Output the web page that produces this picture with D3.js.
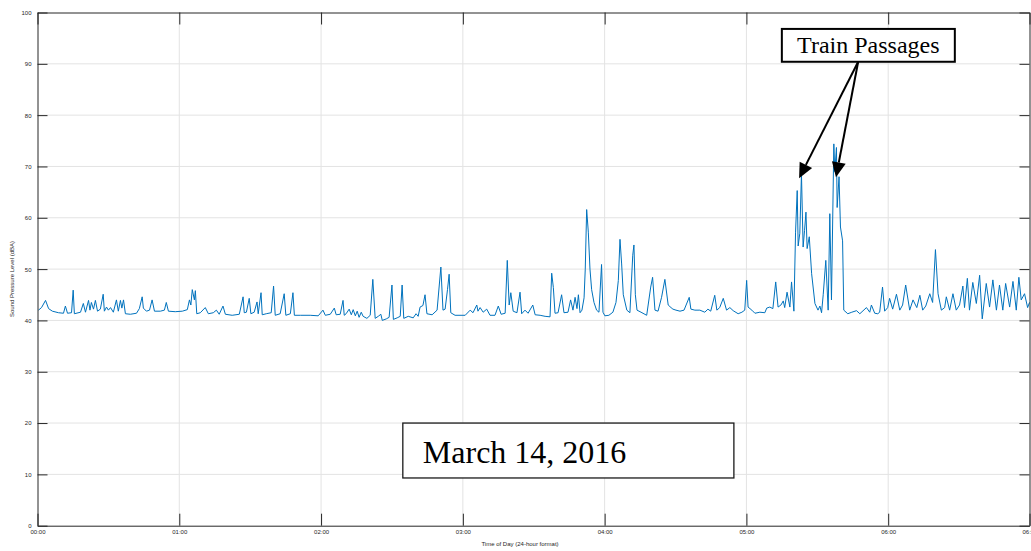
<!DOCTYPE html>
<html>
<head>
<meta charset="utf-8">
<script src="https://cdn.jsdelivr.net/npm/d3@7"></script>
<style>
  body { margin: 0; background: #fff; }
  svg { display: block; }
  .axis path, .axis line { stroke: #262626; }
  .axis text { fill: #262626; font-family: "Liberation Sans", Arial, sans-serif; font-size: 6px; }
  .grid line { stroke: #e3e3e3; stroke-width: 1; }
  .label { fill: #262626; font-family: "Liberation Sans", Arial, sans-serif; font-size: 6px; }
  .note { font-family: "Liberation Serif", "Times New Roman", serif; fill: #000; }
</style>
</head>
<body>
<div id="chart"></div>
<script>
// time of day in minutes after midnight
const minutes = [
  0.4, 1.7, 3.4, 4.7, 6.3, 8.9, 11.0, 11.8, 12.7, 14.4,
  15.1, 15.6, 18.2, 19.4, 20.3, 21.6, 22.2, 22.8, 23.7, 24.5,
  25.4, 26.6, 27.8, 28.3, 29.2, 30.0, 30.9, 32.1, 33.4, 34.2,
  35.1, 35.7, 36.4, 37.2, 39.3, 41.9, 43.1, 44.3, 44.8, 46.1,
  47.4, 48.5, 49.5, 52.0, 53.7, 54.5, 55.4, 58.3, 61.3, 63.4,
  64.3, 64.9, 65.5, 66.4, 66.8, 67.4, 68.9, 71.0, 72.3, 74.4,
  75.7, 76.9, 78.5, 79.5, 82.4, 85.4, 87.0, 87.5, 88.4, 89.6,
  90.3, 91.7, 92.9, 93.4, 94.6, 95.1, 96.8, 98.9, 99.9, 100.6,
  102.7, 104.4, 105.1, 107.0, 108.1, 108.7, 111.2, 115.4, 118.8, 120.8,
  121.8, 123.9, 125.6, 126.4, 128.1, 129.3, 129.8, 130.6, 131.9, 132.8,
  133.6, 134.5, 135.3, 136.1, 137.0, 137.8, 139.4, 140.8, 141.9, 142.9,
  144.2, 145.3, 145.9, 147.6, 148.8, 150.0, 150.6, 152.2, 153.5, 154.3,
  155.0, 156.9, 159.0, 160.2, 161.1, 161.9, 163.1, 164.0, 164.8, 167.0,
  169.1, 170.7, 171.6, 172.5, 173.5, 174.2, 174.9, 176.7, 178.8, 181.0,
  183.1, 184.3, 185.9, 186.4, 187.3, 188.6, 190.1, 191.5, 193.6, 195.0,
  196.2, 197.9, 198.8, 199.6, 200.3, 201.3, 202.9, 204.2, 204.9, 206.3,
  207.6, 209.6, 210.6, 212.7, 214.8, 216.9, 217.6, 218.3, 219.0, 220.3,
  221.8, 222.8, 224.5, 225.6, 226.6, 227.5, 228.3, 228.9, 229.6, 230.4,
  231.3, 231.8, 232.4, 233.1, 233.8, 234.5, 235.5, 236.6, 237.6, 238.7,
  239.3, 240.1, 241.8, 243.5, 244.8, 245.8, 246.5, 247.2, 247.9, 249.4,
  250.7, 251.9, 252.4, 253.0, 253.7, 255.4, 257.8, 259.5, 260.3, 261.3,
  262.6, 264.1, 265.5, 266.9, 268.1, 268.9, 270.2, 271.9, 273.6, 275.8,
  276.5, 278.2, 280.3, 282.4, 283.7, 284.9, 286.6, 287.5, 288.7, 290.2,
  291.6, 293.0, 294.4, 296.5, 298.1, 299.3, 300.1, 300.7, 302.3, 303.6,
  305.7, 307.8, 308.6, 309.9, 311.2, 312.4, 313.4, 314.6, 315.6, 316.2,
  317.2, 318.4, 319.1, 320.1, 320.8, 321.5, 321.9, 322.6, 323.3, 324.0,
  324.6, 325.2, 325.7, 326.6, 327.6, 329.0, 330.3, 331.1, 331.8, 332.5,
  333.6, 334.6, 335.3, 336.0, 337.0, 337.4, 338.1, 338.4, 339.2, 339.8,
  340.7, 341.2, 342.9, 344.6, 346.6, 348.0, 350.8, 352.2, 352.9, 354.3,
  355.6, 356.4, 357.6, 358.5, 359.8, 360.6, 361.9, 363.5, 364.9, 366.1,
  367.4, 369.1, 370.5, 372.1, 373.4, 374.6, 375.9, 377.6, 378.8, 380.0,
  381.1, 382.5, 383.9, 384.6, 386.0, 387.4, 388.8, 390.2, 391.6, 392.3,
  393.5, 394.4, 395.8, 397.3, 398.7, 399.8, 401.5, 402.9, 404.3, 405.8,
  407.1, 408.5, 409.7, 411.4, 412.8, 414.2, 415.3, 416.3, 417.7, 419.0,
  419.8
];

// sound pressure level (dBA), same order as minutes
const dBA = [
  42.0, 42.5, 43.9, 42.3, 41.8, 41.5, 41.4, 42.8, 41.4, 41.5,
  45.9, 41.3, 41.6, 43.3, 41.6, 43.9, 42.0, 43.5, 42.2, 43.9,
  41.8, 42.2, 45.1, 41.8, 42.6, 42.0, 42.5, 41.6, 44.0, 41.8,
  43.9, 42.4, 44.0, 41.3, 41.2, 41.4, 42.3, 44.6, 42.4, 41.8,
  42.0, 44.0, 41.8, 41.8, 42.0, 43.5, 41.8, 41.7, 41.8, 42.1,
  44.0, 43.0, 46.0, 44.0, 45.8, 41.3, 41.5, 42.5, 41.3, 41.5,
  42.0, 41.2, 42.8, 41.2, 41.0, 41.2, 44.6, 41.5, 41.6, 44.3,
  41.3, 41.6, 43.6, 41.3, 45.4, 41.1, 41.3, 41.5, 46.7, 41.0,
  41.3, 45.2, 41.0, 41.3, 45.4, 41.0, 41.0, 41.0, 40.9, 42.0,
  41.0, 41.2, 42.4, 41.1, 41.2, 43.9, 41.0, 41.3, 42.2, 41.1,
  42.1, 40.9, 41.8, 40.6, 41.6, 40.8, 40.4, 41.0, 48.0, 40.4,
  40.8, 41.2, 40.0, 40.3, 40.6, 46.9, 40.2, 40.5, 40.8, 46.9,
  40.4, 40.8, 40.5, 41.3, 40.8, 42.6, 42.9, 45.0, 41.3, 41.1,
  42.0, 50.4, 42.0, 42.2, 46.0, 49.0, 41.5, 41.0, 41.0, 41.0,
  42.0, 41.5, 43.0, 41.8, 42.5, 41.6, 42.2, 41.0, 41.0, 42.8,
  41.2, 41.4, 51.7, 43.0, 45.4, 41.8, 41.5, 45.5, 41.3, 42.0,
  41.4, 43.0, 41.1, 41.0, 40.8, 40.7, 49.2, 46.4, 41.4, 41.5,
  45.0, 41.5, 41.6, 44.0, 42.0, 44.5, 42.3, 45.0, 41.5, 42.0,
  44.4, 50.0, 61.6, 57.2, 50.0, 46.0, 43.5, 42.0, 41.6, 50.9,
  41.6, 40.9, 41.0, 41.6, 43.5, 47.8, 55.8, 51.0, 45.0, 42.0,
  41.5, 52.7, 54.7, 45.0, 42.0, 41.6, 41.0, 46.5, 48.4, 42.0,
  41.8, 44.5, 48.0, 43.0, 42.5, 42.2, 42.0, 41.8, 42.0, 44.5,
  42.2, 42.0, 42.0, 41.6, 42.2, 41.8, 44.9, 42.0, 42.5, 44.3,
  42.0, 42.5, 41.9, 41.3, 41.6, 42.0, 47.8, 42.6, 42.0, 41.4,
  41.6, 41.5, 42.4, 42.6, 42.3, 47.5, 42.6, 43.0, 43.8, 42.5,
  45.5, 42.6, 47.5, 41.8, 57.2, 65.3, 54.5, 57.0, 68.6, 54.3,
  57.5, 61.1, 54.0, 56.3, 49.1, 43.3, 42.0, 42.8, 41.5, 45.0,
  51.7, 42.0, 60.8, 44.0, 74.4, 69.0, 73.7, 62.0, 68.0, 58.2,
  55.5, 42.0, 41.3, 41.6, 41.9, 41.3, 42.5, 41.6, 43.0, 41.4,
  41.3, 41.6, 46.5, 41.8, 42.5, 44.3, 42.2, 45.1, 42.0, 43.0,
  46.9, 42.0, 44.0, 42.5, 44.9, 42.0, 42.8, 45.2, 43.5, 53.8,
  45.2, 42.0, 42.5, 44.6, 42.0, 45.2, 42.0, 43.0, 46.7, 42.5,
  48.2, 42.0, 47.4, 43.3, 48.8, 40.3, 47.2, 42.6, 47.9, 42.0,
  46.9, 42.0, 47.2, 42.6, 47.6, 42.0, 48.4, 44.0, 45.2, 42.5,
  43.5
];

const xTicks = [0, 60, 120, 180, 240, 300, 360, 419.8];
const yTicks = [0, 10, 20, 30, 40, 50, 60, 70, 80, 90, 100];
const xDomain = [0, 419.8];
const yDomain = [0, 100];

// annotations in data units (minutes, dBA)
const trainBox = [315.0, 96.8, 388.2, 90.4];
const trainArrowFrom = [347.3, 90.4];
const trainArrowTips = [[322.3, 67.7], [337.9, 67.9]];
const dateBox = [154.6, 20.0, 294.7, 9.3];

const width = 1031, height = 551;
const margin = {top: 12.5, right: 1.5, bottom: 25.3, left: 37.5};

let x = d3.scaleLinear().domain(xDomain).range([margin.left, width - margin.right]);
let y = d3.scaleLinear().domain(yDomain).range([height - margin.bottom, margin.top]);

let svg = d3.select("#chart")
  .append("svg")
  .attr("width", width)
  .attr("height", height);

function hhmm(m) {
  let h = Math.floor(m / 60), mm = Math.floor(m % 60);
  return String(h).padStart(2, "0") + ":" + String(mm).padStart(2, "0");
}

// grid
let grid = svg.append("g").attr("class", "grid");
grid.selectAll(".gx")
  .data(xTicks.slice(1, -1))
  .enter().append("line")
  .attr("x1", (d) => x(d)).attr("x2", (d) => x(d))
  .attr("y1", y(0)).attr("y2", y(100));
grid.selectAll(".gy")
  .data(yTicks.slice(1, -1))
  .enter().append("line")
  .attr("x1", x(xDomain[0])).attr("x2", x(xDomain[1]))
  .attr("y1", (d) => y(d)).attr("y2", (d) => y(d));

// trace
let series = minutes.map((m, i) => ({t: m, v: dBA[i]}));
let line = d3.line().x((d) => x(d.t)).y((d) => y(d.v));

svg.append("path")
  .datum(series)
  .attr("fill", "none")
  .attr("stroke", "#0072BD")
  .attr("stroke-width", 1)
  .attr("stroke-linejoin", "round")
  .attr("d", line);

// axes, ticks pointing inwards like matlab
svg.append("g")
  .attr("class", "axis")
  .attr("transform", "translate(0," + y(0) + ")")
  .call(d3.axisBottom(x).tickValues(xTicks).tickSizeInner(-12).tickSizeOuter(0).tickPadding(4).tickFormat(hhmm));

svg.append("g")
  .attr("class", "axis")
  .attr("transform", "translate(0," + y(100) + ")")
  .call(d3.axisTop(x).tickValues(xTicks).tickSizeInner(-12).tickSizeOuter(0).tickFormat(""));

svg.append("g")
  .attr("class", "axis")
  .attr("transform", "translate(" + x(0) + ",0)")
  .call(d3.axisLeft(y).tickValues(yTicks).tickSizeInner(-10).tickSizeOuter(0).tickPadding(6));

svg.append("g")
  .attr("class", "axis")
  .attr("transform", "translate(" + x(xDomain[1]) + ",0)")
  .call(d3.axisRight(y).tickValues(yTicks).tickSizeInner(-10).tickSizeOuter(0).tickFormat(""));

svg.append("text")
  .attr("class", "label")
  .attr("x", 520)
  .attr("y", 546)
  .attr("text-anchor", "middle")
  .text("Time of Day (24-hour format)");

svg.append("text")
  .attr("class", "label")
  .attr("transform", "translate(14,279) rotate(-90)")
  .attr("text-anchor", "middle")
  .text("Sound Pressure Level (dBA)");

// "Train Passages" callout
let from = [x(trainArrowFrom[0]), y(trainArrowFrom[1])];
trainArrowTips.forEach(function(tip) {
  let tx = x(tip[0]), ty = y(tip[1]);
  let dx = tx - from[0], dy = ty - from[1];
  let len = Math.sqrt(dx * dx + dy * dy);
  let ux = dx / len, uy = dy / len;
  let bx = tx - ux * 15, by = ty - uy * 15;
  svg.append("line")
    .attr("x1", from[0]).attr("y1", from[1])
    .attr("x2", bx).attr("y2", by)
    .attr("stroke", "#000").attr("stroke-width", 2);
  svg.append("polygon")
    .attr("points", [[tx, ty], [bx - uy * 7, by + ux * 7], [bx + uy * 7, by - ux * 7]].map((p) => p.join(",")).join(" "))
    .attr("fill", "#000");
});

svg.append("rect")
  .attr("x", x(trainBox[0])).attr("y", y(trainBox[1]))
  .attr("width", x(trainBox[2]) - x(trainBox[0]))
  .attr("height", y(trainBox[3]) - y(trainBox[1]))
  .attr("fill", "#fff").attr("stroke", "#000").attr("stroke-width", 2);

svg.append("text")
  .attr("class", "note")
  .attr("x", (x(trainBox[0]) + x(trainBox[2])) / 2)
  .attr("y", y(trainBox[3]) - 8.5)
  .attr("text-anchor", "middle")
  .style("font-size", "24px")
  .text("Train Passages");

// date label
svg.append("rect")
  .attr("x", x(dateBox[0])).attr("y", y(dateBox[1]))
  .attr("width", x(dateBox[2]) - x(dateBox[0]))
  .attr("height", y(dateBox[3]) - y(dateBox[1]))
  .attr("fill", "#fff").attr("stroke", "#1a1a1a").attr("stroke-width", 1.3);

svg.append("text")
  .attr("class", "note")
  .attr("x", x(dateBox[0]) + 20)
  .attr("y", y(dateBox[3]) - 15)
  .style("font-size", "32px")
  .text("March 14, 2016");
</script>
</body>
</html>
